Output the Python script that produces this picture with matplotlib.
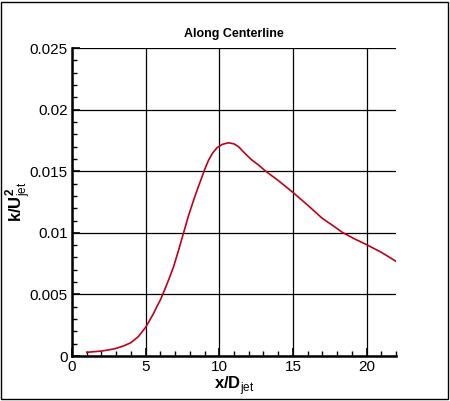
import numpy as np
import matplotlib
matplotlib.use("Agg")
import matplotlib.pyplot as plt
from matplotlib.patches import Rectangle
from matplotlib.ticker import MultipleLocator, FuncFormatter

# values
xd = [1.0, 1.5, 2.0, 2.5, 3.0, 3.5, 4.0, 4.5, 5.0, 5.25, 5.54, 5.76, 6.0,
      6.3, 6.6, 6.90, 7.25, 7.58, 7.9, 8.26, 8.55, 8.83, 9.05,
      9.28, 9.55, 9.84, 10.2, 10.63, 11.0, 11.31, 11.7, 12.2, 12.67, 13.13,
      14.0, 14.94, 16.0, 16.99, 17.7, 18.35, 19.2, 20.05, 21.0, 21.97]
kU = [0.0003, 0.00035, 0.0004, 0.0005, 0.00062, 0.00082, 0.00108, 0.00157,
      0.00233, 0.00285, 0.00346, 0.0040, 0.00455, 0.0054, 0.0063,
      0.00725, 0.00865, 0.01001, 0.01135, 0.01266, 0.01365, 0.01455,
      0.01527, 0.01591, 0.01648, 0.01690, 0.01718, 0.01731, 0.01722, 0.01699,
      0.01650, 0.01592, 0.0155, 0.01502, 0.01425, 0.01334, 0.01225,
      0.01118, 0.01060, 0.01004, 0.00950, 0.00901, 0.00842, 0.00771]

title = "Along Centerline"
xticks = [0, 5, 10, 15, 20]
yticks = [0, 0.005, 0.01, 0.015, 0.02, 0.025]

plt.rcParams['font.family'] = ['Liberation Sans', 'DejaVu Sans']
plt.rcParams['mathtext.fontset'] = 'custom'
plt.rcParams['mathtext.rm'] = 'Liberation Sans'
plt.rcParams['mathtext.bf'] = 'Liberation Sans:bold'

fig = plt.figure(figsize=(4.5, 4.01), dpi=100)
ax = fig.add_axes([0.16, 0.1122, 0.72, 0.768])

ax.plot(xd, kU, color='#c0001a', lw=1.2)

ax.set_xlim(0, 22)
ax.set_ylim(0, 0.025)
ax.set_xticks(xticks)
ax.set_yticks(yticks)
ax.xaxis.set_minor_locator(MultipleLocator(1))
ax.yaxis.set_minor_locator(MultipleLocator(0.001))
ax.yaxis.set_major_formatter(FuncFormatter(lambda v, p: '%g' % v))
ax.grid(True, which='major', color='black', lw=0.9)

for s in ['top', 'right']:
    ax.spines[s].set_visible(False)
for s in ['left', 'bottom']:
    ax.spines[s].set_linewidth(1.8)

ax.tick_params(which='major', direction='in', length=6, width=1.2, labelsize=11, pad=3)
ax.tick_params(which='minor', direction='in', length=3.5, width=1)

ax.set_title(title, fontsize=9, fontweight='bold', pad=8)
ax.set_xlabel(r'$\mathbf{x/D}_{\rm jet}$', fontsize=12, labelpad=0)
fig.text(18 / 450, 1 - 202 / 401, r'$\mathbf{k/U}_{\rm jet}^{\mathbf{2}}$',
         fontsize=12, rotation=90, ha='center', va='center')

# border around the whole picture
fig.add_artist(Rectangle((1 / 450, 2 / 401), 447 / 450, 397 / 401,
                         transform=fig.transFigure, fill=False,
                         edgecolor='black', lw=1))

fig.savefig('out.png', dpi=100)
